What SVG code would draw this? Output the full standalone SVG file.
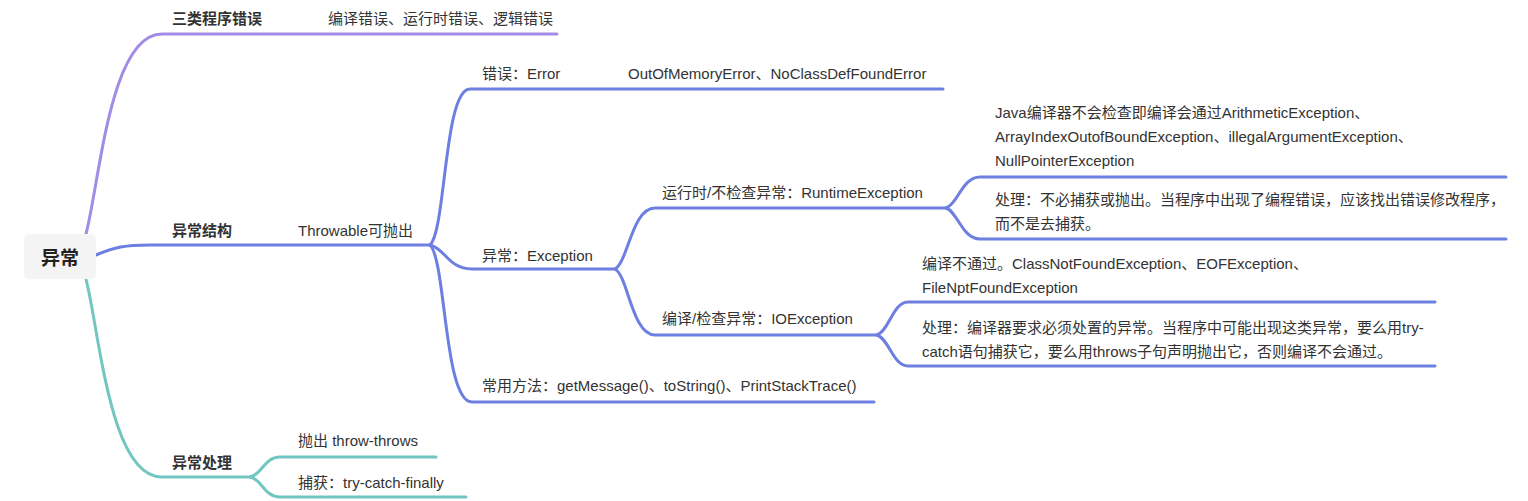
<svg xmlns="http://www.w3.org/2000/svg" width="1528" height="501" viewBox="0 0 1528 501">
<style>
text{font-family:"Liberation Sans","Noto Sans CJK SC",sans-serif;font-size:15px;fill:#333;}
.b{font-weight:bold;}
.root{font-size:19px;font-weight:bold;fill:#222;}
.c{fill:none;stroke-width:3;stroke-linecap:round;}
.p{stroke:#a28ce6;}
.u{stroke:#6d7fe0;}
.t{stroke:#72c6c1;}
</style>
<rect width="1528" height="501" fill="#fff"/>
<g id="connectors">
<path class="c p" d="M86,234 C100,180 110,34 162,34 L557,34"/>
<path class="c u" d="M96,255 C115,247 125,245 150,245 L430,245"/>
<path class="c t" d="M86,279 C100,335 110,477 162,477 L250,477"/>
<path class="c u" d="M430,245 C446,230 444,89 470,89 L943,89"/>
<path class="c u" d="M430,245 C445,248 448,269 472,269 L615,269"/>
<path class="c u" d="M430,245 C446,260 444,402 472,402 L874,402"/>
<path class="c u" d="M615,269 C628,262 632,208 655,208 L946,208"/>
<path class="c u" d="M615,269 C628,276 632,335 655,335 L877,335"/>
<path class="c u" d="M946,208 C958,204 962,177 980,177 L1506,177"/>
<path class="c u" d="M946,208 C958,212 962,239 980,239 L1506,239"/>
<path class="c u" d="M877,335 C889,331 893,302 908,302 L1435,302"/>
<path class="c u" d="M877,335 C889,339 893,366 908,366 L1435,366"/>
<path class="c t" d="M250,477 C262,475 264,457 280,457 L436,457"/>
<path class="c t" d="M250,477 C262,479 264,497 280,497 L466,497"/>
</g>
<g id="root">
<rect x="24" y="234" width="72" height="45" rx="5" fill="#f4f4f4"/>
<text class="root" x="41" y="265">异常</text>
</g>
<g id="n-three">
<text class="b" x="172" y="24">三类程序错误</text>
<text x="328" y="24">编译错误、运行时错误、逻辑错误</text>
</g>
<g id="n-struct">
<text class="b" x="172" y="236">异常结构</text>
<text x="298" y="236">Throwable可抛出</text>
</g>
<g id="n-error">
<text x="482" y="79">错误：Error</text>
<text x="628" y="79">OutOfMemoryError、NoClassDefFoundError</text>
</g>
<g id="n-exception">
<text x="482" y="261">异常：Exception</text>
</g>
<g id="n-methods">
<text x="482" y="391">常用方法：getMessage()、toString()、PrintStackTrace()</text>
</g>
<g id="n-runtime">
<text x="662" y="198">运行时/不检查异常：RuntimeException</text>
</g>
<g id="n-runtime-desc">
<text x="995" y="118">Java编译器不会检查即编译会通过ArithmeticException、</text>
<text x="995" y="142">ArrayIndexOutofBoundException、illegalArgumentException、</text>
<text x="995" y="166">NullPointerException</text>
</g>
<g id="n-runtime-handle">
<text x="995" y="205">处理：不必捕获或抛出。当程序中出现了编程错误，应该找出错误修改程序，</text>
<text x="995" y="229">而不是去捕获。</text>
</g>
<g id="n-io">
<text x="662" y="324">编译/检查异常：IOException</text>
</g>
<g id="n-io-desc">
<text x="922" y="269">编译不通过。ClassNotFoundException、EOFException、</text>
<text x="922" y="293">FileNptFoundException</text>
</g>
<g id="n-io-handle">
<text x="922" y="333">处理：编译器要求必须处置的异常。当程序中可能出现这类异常，要么用try-</text>
<text x="922" y="357">catch语句捕获它，要么用throws子句声明抛出它，否则编译不会通过。</text>
</g>
<g id="n-handling">
<text class="b" x="172" y="468">异常处理</text>
<text x="298" y="446">抛出 throw-throws</text>
<text x="298" y="488">捕获：try-catch-finally</text>
</g>
</svg>
